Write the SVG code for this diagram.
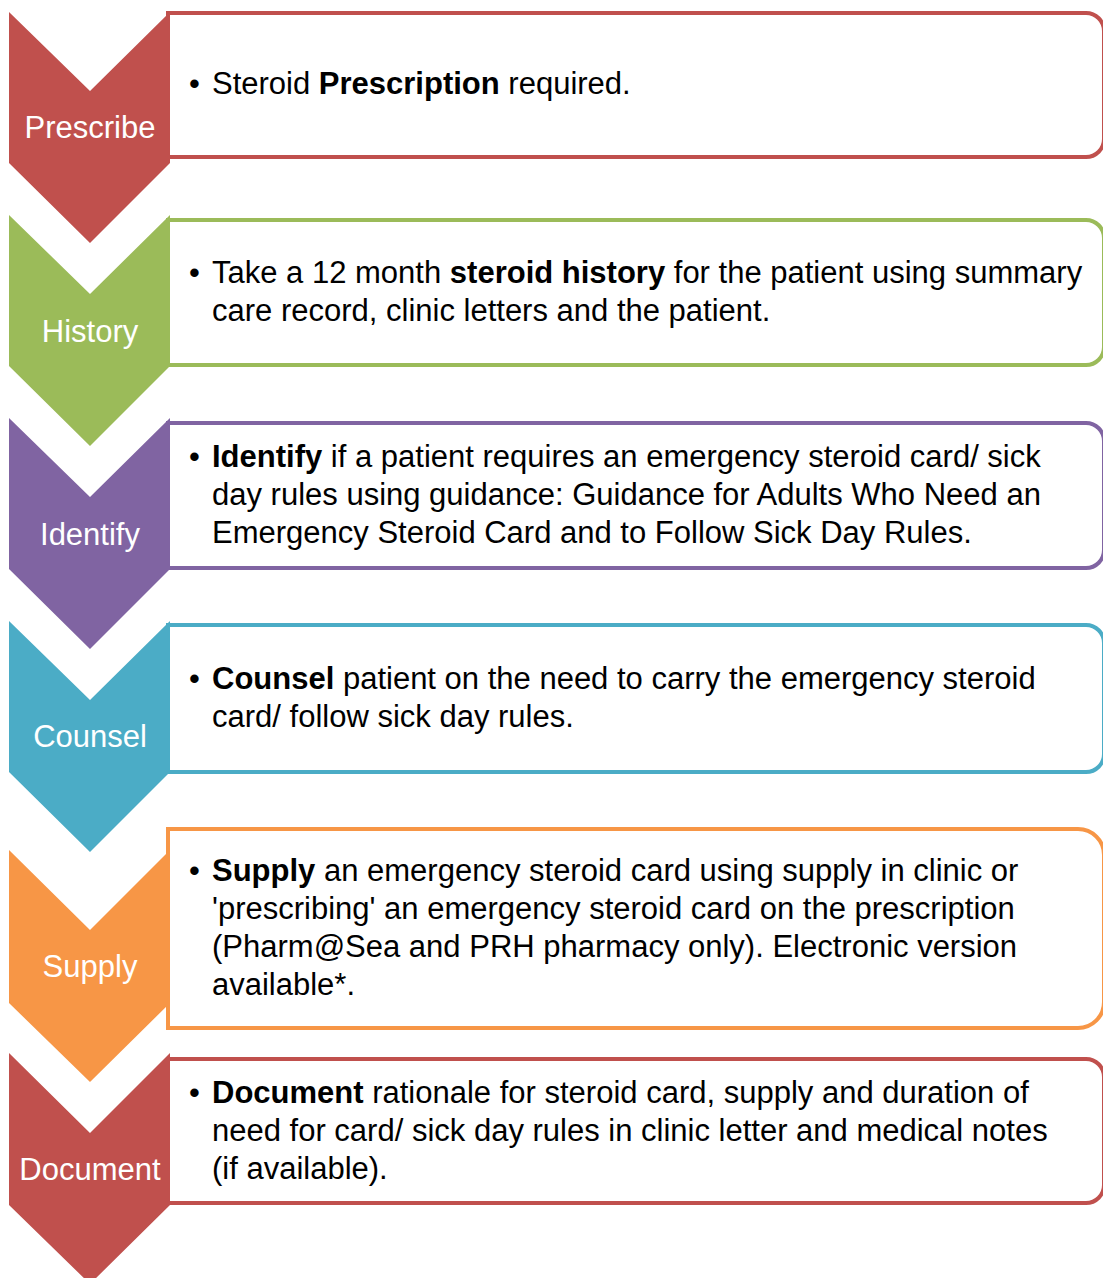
<svg xmlns="http://www.w3.org/2000/svg" width="1103" height="1278" viewBox="0 0 1103 1278">
<style>
.lbl{font-family:"Liberation Sans",Arial,sans-serif;font-size:31px;fill:#fff;text-anchor:middle}
.txt{font-family:"Liberation Sans",Arial,sans-serif;font-size:31px;fill:#000}
.b{font-weight:bold}
.box{fill:#fff;stroke-width:4}
.red{fill:#C0504D}.green{fill:#9BBB59}.purple{fill:#8064A2}.teal{fill:#4BACC6}.orange{fill:#F79646}
</style>
<rect width="1103" height="1278" fill="#fff"/>
<g id="connectors"></g>
<g id="prescribe">
<path class="red" d="M9,12 L90,91 L170,12 V163 L90,243 L9,163 Z"/>
<path class="box" stroke="#C0504D" d="M168,13 H1086 A18,18 0 0 1 1104,31 V139 A18,18 0 0 1 1086,157 H168 Z"/>
<text class="lbl" x="90" y="138">Prescribe</text>
<text class="txt" y="94"><tspan x="189">•</tspan><tspan x="212">Steroid </tspan><tspan class="b">Prescription</tspan> required.</text>
</g>
<g id="history">
<path class="green" d="M9,215 L90,294 L170,215 V366 L90,446 L9,366 Z"/>
<path class="box" stroke="#9BBB59" d="M168,220 H1086 A18,18 0 0 1 1104,238 V347 A18,18 0 0 1 1086,365 H168 Z"/>
<text class="lbl" x="90" y="342">History</text>
<text class="txt" y="283"><tspan x="189">•</tspan><tspan x="212">Take a 12 month </tspan><tspan class="b">steroid history</tspan> for the patient using summary</text>
<text class="txt" x="212" y="321">care record, clinic letters and the patient.</text>
</g>
<g id="identify">
<path class="purple" d="M9,418 L90,497 L170,418 V569 L90,649 L9,569 Z"/>
<path class="box" stroke="#8064A2" d="M168,423 H1086 A18,18 0 0 1 1104,441 V550 A18,18 0 0 1 1086,568 H168 Z"/>
<text class="lbl" x="90" y="545">Identify</text>
<text class="txt" y="467"><tspan x="189">•</tspan><tspan x="212" class="b">Identify</tspan> if a patient requires an emergency steroid card/ sick</text>
<text class="txt" x="212" y="505">day rules using guidance: Guidance for Adults Who Need an</text>
<text class="txt" x="212" y="543">Emergency Steroid Card and to Follow Sick Day Rules.</text>
</g>
<g id="counsel">
<path class="teal" d="M9,621 L90,700 L170,621 V772 L90,852 L9,772 Z"/>
<path class="box" stroke="#4BACC6" d="M168,625 H1086 A18,18 0 0 1 1104,643 V754 A18,18 0 0 1 1086,772 H168 Z"/>
<text class="lbl" x="90" y="747">Counsel</text>
<text class="txt" y="689"><tspan x="189">•</tspan><tspan x="212" class="b">Counsel</tspan> patient on the need to carry the emergency steroid</text>
<text class="txt" x="212" y="727">card/ follow sick day rules.</text>
</g>
<g id="supply">
<path class="orange" d="M9,850 L90,930 L170,850 V1003 L90,1082 L9,1003 Z"/>
<path class="box" stroke="#F79646" d="M168,829 H1078 A26,26 0 0 1 1104,855 V1002 A26,26 0 0 1 1078,1028 H168 Z"/>
<text class="lbl" x="90" y="977">Supply</text>
<text class="txt" y="881"><tspan x="189">•</tspan><tspan x="212" class="b">Supply</tspan> an emergency steroid card using supply in clinic or</text>
<text class="txt" x="212" y="919">'prescribing' an emergency steroid card on the prescription</text>
<text class="txt" x="212" y="957">(Pharm@Sea and PRH pharmacy only). Electronic version</text>
<text class="txt" x="212" y="995">available*.</text>
</g>
<g id="document">
<path class="red" d="M9,1053 L90,1133 L170,1053 V1205 L90,1284 L9,1205 Z"/>
<path class="box" stroke="#C0504D" d="M168,1059 H1086 A18,18 0 0 1 1104,1077 V1185 A18,18 0 0 1 1086,1203 H168 Z"/>
<text class="lbl" x="90" y="1180">Document</text>
<text class="txt" y="1103"><tspan x="189">•</tspan><tspan x="212" class="b">Document</tspan> rationale for steroid card, supply and duration of</text>
<text class="txt" x="212" y="1141">need for card/ sick day rules in clinic letter and medical notes</text>
<text class="txt" x="212" y="1179">(if available).</text>
</g>
</svg>
